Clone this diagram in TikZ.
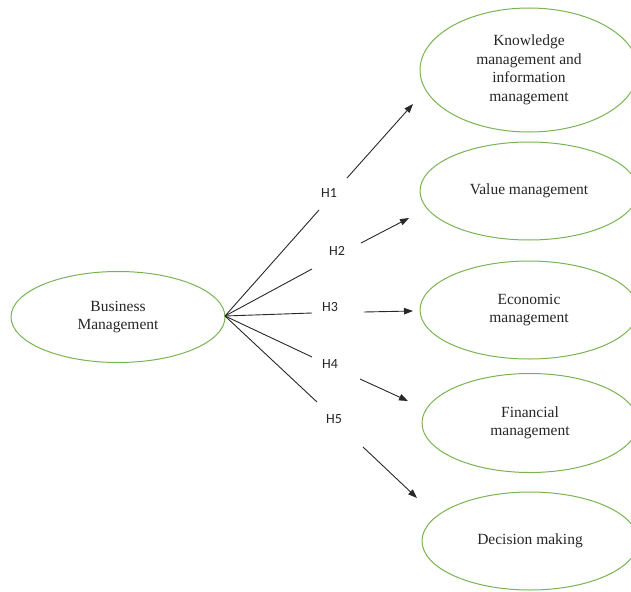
\documentclass[tikz,border=0pt]{standalone}
\usepackage{fontspec}
\setmainfont{Liberation Serif}
\newfontfamily\hfont{Carlito}
\usetikzlibrary{shapes.geometric,arrows.meta}
\definecolor{ovalgreen}{RGB}{122,180,82}
\definecolor{linegray}{RGB}{40,40,40}
\tikzset{
  oval/.style={ellipse,draw=ovalgreen,line width=1pt,inner sep=0pt,align=center,
    font=\fontsize{15.5}{18.5}\selectfont,text=black!85},
  hlab/.style={font=\hfont\fontsize{14}{16}\selectfont,text=black!85,inner sep=0pt},
  conn/.style={draw=linegray,line width=0.9pt},
  arr/.style={conn,-{Triangle[length=9pt,width=6.5pt]}}
}
\begin{document}
\begin{tikzpicture}[x=1pt,y=-1pt]
\useasboundingbox (0,0) rectangle (631,591);
\clip (0,0) rectangle (631,591);
\node[oval,minimum width=214pt,minimum height=91pt] (bm) at (118,317) {Business\\Management};
\node[oval,minimum width=218pt,minimum height=124pt] (e1) at (529,70) {Knowledge\\management and\\information\\management};
\node[oval,minimum width=218pt,minimum height=98pt] (e2) at (529,191) {\raisebox{3pt}{Value management}};
\node[oval,minimum width=218pt,minimum height=98pt] (e3) at (529,310) {Economic\\management};
\node[oval,minimum width=216pt,minimum height=99pt] (e4) at (530,423) {Financial\\management};
\node[oval,minimum width=216pt,minimum height=98pt] (e5) at (530,541) {Decision making};
% labels
\node[hlab] (h1) at (329,193) {H1};
\node[hlab] (h2) at (337,251) {H2};
\node[hlab] (h3) at (330,307) {H3};
\node[hlab] (h4) at (330,364) {H4};
\node[hlab] (h5) at (334,419) {H5};
% coordinates
\coordinate (src) at (225,316);
\coordinate (a1) at (319,210); \coordinate (b1) at (347,178); \coordinate (c1) at (413,104);
\coordinate (a2) at (312,269); \coordinate (b2) at (361,243); \coordinate (c2) at (409,218);
\coordinate (a3) at (312,313); \coordinate (b3) at (364,312); \coordinate (c3) at (413,311);
\coordinate (a4) at (312,357); \coordinate (b4) at (360,379); \coordinate (c4) at (408,401);
\coordinate (a5) at (317,402); \coordinate (b5) at (363,447); \coordinate (c5) at (417,498);
\foreach \i in {1,...,5}{
  \draw[conn] (src) -- (a\i);
  \draw[arr] (b\i) -- (c\i);
}
\end{tikzpicture}
\end{document}
